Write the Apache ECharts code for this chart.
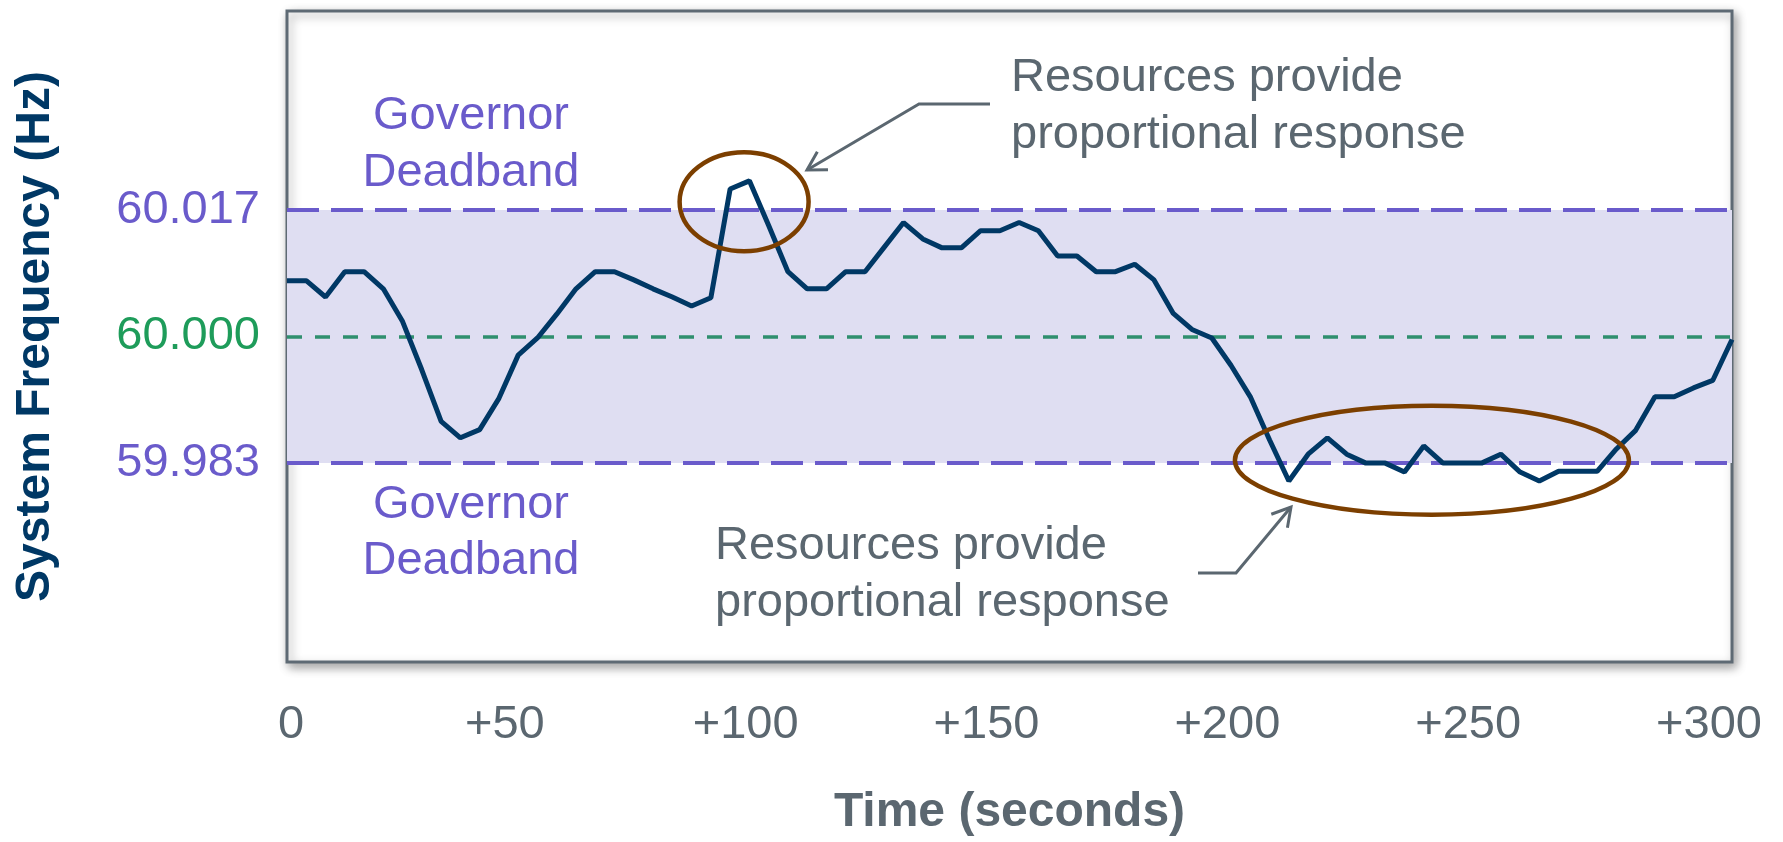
<!DOCTYPE html>
<html>
<head>
<meta charset="utf-8">
<title>System Frequency</title>
<script src="https://cdn.jsdelivr.net/npm/echarts@6/dist/echarts.min.js"></script>
<style>
  html, body { margin: 0; padding: 0; background: #fff; }
  #chart { width: 1783px; height: 842px; }
</style>
</head>
<body>
<div id="chart"></div>
<script>
// seconds since start
var times = [0, 4, 8, 12, 16, 20, 24, 28, 32, 36, 40, 44, 48, 52, 56, 60, 64, 68, 72, 76,
  80, 84, 88, 92, 96, 100, 104, 108, 112, 116, 120, 124, 128, 132, 136, 140, 144, 148, 152, 156,
  160, 164, 168, 172, 176, 180, 184, 188, 192, 196, 200, 204, 208, 212, 216, 220, 224, 228, 232, 236,
  240, 244, 248, 252, 256, 260, 264, 268, 272, 276, 280, 284, 288, 292, 296, 300]

// system frequency (Hz)
var frequency = [60.0075, 60.0075, 60.0053, 60.0087, 60.0087, 60.0064, 60.0020, 59.9955, 59.9886, 59.9864,
  59.9875, 59.9917, 59.9975, 59.9998, 60.0030, 60.0064, 60.0087, 60.0087, 60.0076, 60.0064,
  60.0053, 60.0041, 60.0052, 60.0198, 60.0209, 60.0149, 60.0087, 60.0064, 60.0064, 60.0087,
  60.0087, 60.0120, 60.0153, 60.0131, 60.0119, 60.0119, 60.0142, 60.0142, 60.0153, 60.0142,
  60.0108, 60.0108, 60.0087, 60.0087, 60.0097, 60.0076, 60.0031, 60.0009, 59.9998, 59.9961,
  59.9919, 59.9861, 59.9806, 59.9842, 59.9864, 59.9842, 59.9830, 59.9830, 59.9818, 59.9853,
  59.9830, 59.9830, 59.9830, 59.9842, 59.9818, 59.9806, 59.9819, 59.9819, 59.9819, 59.9849,
  59.9874, 59.9919, 59.9919, 59.9931, 59.9941, 59.9996]

var nominal = 60.000
var deadbandHigh = 60.017
var deadbandLow = 59.983
var freqTicks = [59.983, 60.000, 60.017]
var timeTicks = [0, 50, 100, 150, 200, 250, 300]

// circled regions [time, frequency]
var highCircle = [94.9, 60.0181]
var lowCircle = [237.7, 59.9834]

var FONT = "'Liberation Sans', Arial, sans-serif"
var PURPLE = '#6a5bcb'
var GREEN_TXT = '#1e9c5a'
var GREEN_LINE = '#2f8f6e'
var GRAY = '#5b6770'
var NAVY = '#003865'
var BROWN = '#7c3f00'

var data = []
for (var i = 0; i < times.length; i++) {
  data.push([times[i], frequency[i]])
}

// horizontal reference line across the whole time range
function hLine(y, color, width, dash) {
  return [
    { coord: [times[0], y], lineStyle: { color: color, width: width, type: dash } },
    { coord: [times[times.length - 1], y] }
  ]
}

var myChart = echarts.init(document.getElementById('chart'))

myChart.setOption({
  animation: false,
  backgroundColor: '#fff',
  grid: {
    left: 287,
    right: 51,
    top: 11,
    bottom: 177,
    show: true,
    backgroundColor: '#fff',
    borderColor: '#5e6a74',
    borderWidth: 3,
    shadowBlur: 10,
    shadowColor: 'rgba(0, 0, 0, 0.35)',
    shadowOffsetX: 3,
    shadowOffsetY: 4
  },
  xAxis: {
    type: 'value',
    min: 0,
    max: 300,
    name: 'Time (seconds)',
    nameLocation: 'middle',
    nameGap: 127,
    nameTextStyle: {
      color: GRAY,
      fontFamily: FONT,
      fontSize: 48,
      fontWeight: 'bold'
    },
    axisLine: { show: false },
    axisTick: { show: false },
    splitLine: { show: false },
    axisLabel: {
      customValues: timeTicks,
      margin: 40,
      formatter: function(v) {
        return v === 0 ? '{z|0}' : '{p|+' + v + '}'
      },
      rich: {
        z: { color: GRAY, fontFamily: FONT, fontSize: 47, padding: [0, 0, 0, 8] },
        p: { color: GRAY, fontFamily: FONT, fontSize: 47, padding: [0, 46, 0, 0] }
      }
    }
  },
  yAxis: {
    type: 'value',
    min: 59.9563,
    max: 60.0437,
    name: 'System Frequency (Hz)',
    nameLocation: 'middle',
    nameRotate: 90,
    nameGap: 227,
    nameTextStyle: {
      color: NAVY,
      fontFamily: FONT,
      fontSize: 48,
      fontWeight: 'bold'
    },
    axisLine: { show: false },
    axisTick: { show: false },
    splitLine: { show: false },
    axisLabel: {
      customValues: freqTicks,
      margin: 27,
      fontFamily: FONT,
      fontSize: 47,
      color: function(v) {
        return Math.abs(v - nominal) < 1e-6 ? GREEN_TXT : PURPLE
      },
      formatter: function(v) {
        return Number(v).toFixed(3)
      }
    }
  },
  series: [{
    name: 'Frequency',
    type: 'line',
    data: data,
    z: 3,
    symbol: 'none',
    smooth: false,
    lineStyle: {
      color: NAVY,
      width: 5
    },
    markArea: {
      silent: true,
      z: 1,
      itemStyle: { color: '#dfdef2' },
      data: [[{ yAxis: deadbandLow }, { yAxis: deadbandHigh }]]
    },
    markLine: {
      silent: true,
      z: 2,
      symbol: ['none', 'none'],
      label: { show: false },
      data: [
        hLine(deadbandHigh, PURPLE, 4, [32, 12]),
        hLine(deadbandLow, PURPLE, 4, [32, 12]),
        hLine(nominal, GREEN_LINE, 3.5, [15, 13])
      ]
    }
  }]
})

// annotations
function arrowHead(from, tip) {
  var a = Math.atan2(from[1] - tip[1], from[0] - tip[0])
  var len = 21, spread = Math.PI / 6
  return [
    [tip[0] + len * Math.cos(a - spread), tip[1] + len * Math.sin(a - spread)],
    tip,
    [tip[0] + len * Math.cos(a + spread), tip[1] + len * Math.sin(a + spread)]
  ]
}

var c1 = myChart.convertToPixel({ gridIndex: 0 }, highCircle)
var c2 = myChart.convertToPixel({ gridIndex: 0 }, lowCircle)

var arrow1 = [[990, 104], [919, 104], [807, 170]]
var arrow2 = [[1198, 573], [1236, 573], [1291, 507]]

var lineStyle = { stroke: GRAY, lineWidth: 3, fill: null }

myChart.setOption({
  graphic: [
    { type: 'ellipse', z: 10, shape: { cx: c1[0], cy: c1[1], rx: 64.5, ry: 49.5 },
      style: { stroke: BROWN, lineWidth: 4.5, fill: null } },
    { type: 'ellipse', z: 10, shape: { cx: c2[0], cy: c2[1], rx: 197, ry: 54.5 },
      style: { stroke: BROWN, lineWidth: 4.5, fill: null } },
    { type: 'polyline', z: 10, shape: { points: arrow1 }, style: lineStyle },
    { type: 'polyline', z: 10, shape: { points: arrowHead(arrow1[1], arrow1[2]) }, style: lineStyle },
    { type: 'polyline', z: 10, shape: { points: arrow2 }, style: lineStyle },
    { type: 'polyline', z: 10, shape: { points: arrowHead(arrow2[1], arrow2[2]) }, style: lineStyle },
    { type: 'text', z: 10, style: {
        text: 'Resources provide\nproportional response', x: 1011, y: 50,
        font: '47px ' + FONT, fill: GRAY, lineHeight: 57, align: 'left', verticalAlign: 'top' } },
    { type: 'text', z: 10, style: {
        text: 'Resources provide\nproportional response', x: 715, y: 518,
        font: '47px ' + FONT, fill: GRAY, lineHeight: 57, align: 'left', verticalAlign: 'top' } },
    { type: 'text', z: 10, style: {
        text: 'Governor\nDeadband', x: 471, y: 88,
        font: '47px ' + FONT, fill: PURPLE, lineHeight: 57, align: 'center', verticalAlign: 'top' } },
    { type: 'text', z: 10, style: {
        text: 'Governor\nDeadband', x: 471, y: 477,
        font: '47px ' + FONT, fill: PURPLE, lineHeight: 56, align: 'center', verticalAlign: 'top' } }
  ]
})

window.addEventListener('resize', function() {
  myChart.resize()
})
</script>
</body>
</html>
